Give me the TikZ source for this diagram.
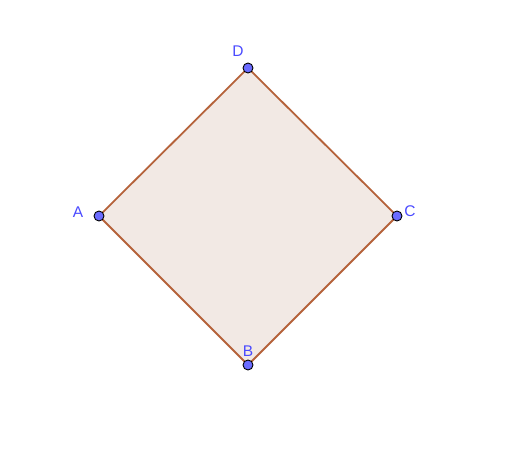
\documentclass[tikz,border=0pt]{standalone}
\usepackage{fontspec}
\setmainfont{Liberation Sans}
\definecolor{edgec}{HTML}{B5623A}
\definecolor{fillc}{HTML}{F2E9E4}
\definecolor{ptc}{HTML}{6B6BFF}
\definecolor{labc}{HTML}{4A4AFF}
\begin{document}
\begin{tikzpicture}[x=1pt,y=-1pt,
  pt/.style={circle,draw=black,fill=ptc,line width=0.9pt,inner sep=0pt,minimum size=10pt},
  lab/.style={text=labc,font=\fontsize{15.5}{15.5}\selectfont,inner sep=0pt}]
\useasboundingbox (0,0) rectangle (512,471);
\coordinate (A) at (99,216);
\coordinate (D) at (248,68);
\coordinate (C) at (397,216);
\coordinate (B) at (248,365);
\fill[fillc] (A) -- (D) -- (C) -- (B) -- cycle;
\draw[edgec,line width=1.8pt,line join=round] (A) -- (D) -- (C) -- (B) -- cycle;
\node[pt] (pA) at (A) {};
\node[pt] (pD) at (D) {};
\node[pt] (pC) at (C) {};
\node[pt] (pB) at (B) {};
\node[lab] (lA) at (78,212) {A};
\node[lab] (lD) at (238,51) {D};
\node[lab] (lC) at (410,211) {C};
\node[lab] (lB) at (248,351) {B};
\end{tikzpicture}
\end{document}
